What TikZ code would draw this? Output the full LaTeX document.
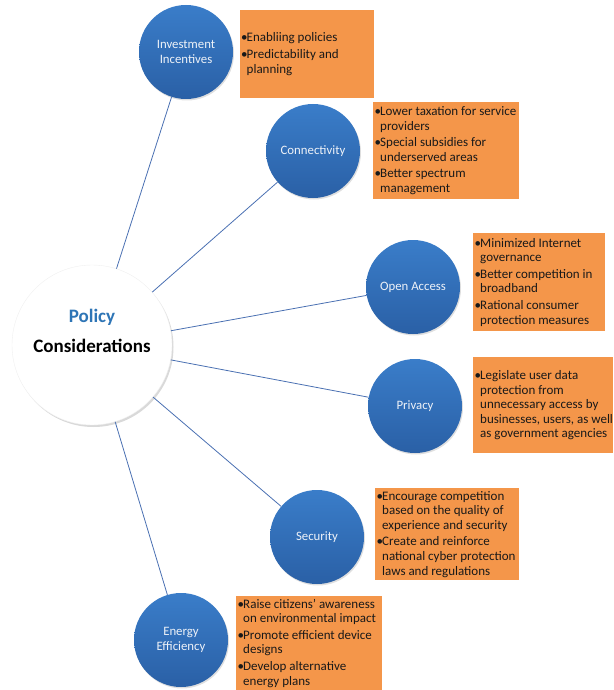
\documentclass[tikz,border=0pt]{standalone}
\usepackage{fontspec}
\setmainfont{Carlito}
\usetikzlibrary{shadows}
\definecolor{boxorange}{HTML}{F4964A}
\definecolor{topictop}{HTML}{3A7DC9}
\definecolor{topicbot}{HTML}{2A60A6}
\definecolor{topictext}{HTML}{EEF2F8}
\definecolor{linkblue}{HTML}{4A70B2}
\definecolor{policyblue}{HTML}{2E75B6}
\newcommand\bul[1]{\makebox[5.5pt][l]{\textbullet}#1}
\newcommand\cont[1]{\hspace*{5.5pt}#1}
\tikzset{
  topic/.style={circle, minimum size=94pt, inner sep=0pt, top color=topictop, bottom color=topicbot,
    text=topictext, align=center, font=\fontsize{12.8}{15}\selectfont,
    drop shadow={shadow xshift=1pt, shadow yshift=-1.5pt, opacity=0.25}},
  hub/.style={circle, minimum size=160pt, inner sep=0pt, fill=white, draw=black!6,
    drop shadow={shadow xshift=1.5pt, shadow yshift=-2pt, opacity=0.3}},
  infobox/.style={rectangle, fill=boxorange, inner sep=0pt, anchor=north west},
  boxtext/.style={align=left, inner sep=0pt, anchor=west, text=black!90, font=\fontsize{13}{14.6}\selectfont},
  link/.style={draw=linkblue, line width=0.8pt}
}
\begin{document}
\begin{tikzpicture}[x=1pt,y=-1pt]
\useasboundingbox (0,0) rectangle (613,690);
% hub
\node[hub] (hub) at (92,345) {};
\node[align=center, font=\bfseries\fontsize{19}{30}\selectfont] (title) at (92,331)
  {\textcolor{policyblue}{Policy}\\Considerations};
% topics
\node[topic] (inv) at (186,52) {Investment\\Incentives};
\node[topic] (con) at (313,151) {Connectivity};
\node[topic] (oa)  at (413,287) {Open Access};
\node[topic] (pri) at (415,406) {Privacy};
\node[topic] (sec) at (317,537) {Security};
\node[topic] (en)  at (181,640) {Energy\\Efficiency};
% links
\foreach \t in {inv,con,oa,pri,sec,en} \draw[link] (hub) -- (\t);
% boxes
\node[infobox, minimum width=134pt, minimum height=88pt] (b1) at (240,10) {};
\node[infobox, minimum width=146pt, minimum height=97pt] (b2) at (373,102) {};
\node[infobox, minimum width=132pt, minimum height=98pt] (b3) at (473,233) {};
\node[infobox, minimum width=140pt, minimum height=96pt] (b4) at (473,357) {};
\node[infobox, minimum width=144pt, minimum height=92pt] (b5) at (375,488) {};
\node[infobox, minimum width=146pt, minimum height=94pt] (b6) at (236,596) {};
% box texts
\node[boxtext] (t1) at ([xshift=1pt]b1.west)
  {\bul{Enabliing policies}\\[2pt]\bul{Predictability and}\\\cont{planning}};
\node[boxtext] (t2) at ([xshift=1.5pt]b2.west)
  {\bul{Lower taxation for service}\\\cont{providers}\\[2pt]\bul{Special subsidies for}\\\cont{underserved areas}\\[2pt]\bul{Better spectrum}\\\cont{management}};
\node[boxtext] (t3) at ([xshift=1.5pt]b3.west)
  {\bul{Minimized Internet}\\\cont{governance}\\[2pt]\bul{Better competition in}\\\cont{broadband}\\[2pt]\bul{Rational consumer}\\\cont{protection measures}};
\node[boxtext] (t4) at ([xshift=1.5pt]b4.west)
  {\bul{Legislate user data}\\\cont{protection from}\\\cont{unnecessary access by}\\\cont{businesses, users, as well}\\\cont{as government agencies}};
\node[boxtext] (t5) at ([xshift=1.5pt]b5.west)
  {\bul{Encourage competition}\\\cont{based on the quality of}\\\cont{experience and security}\\[2pt]\bul{Create and reinforce}\\\cont{national cyber protection}\\\cont{laws and regulations}};
\node[boxtext] (t6) at ([xshift=1.5pt]b6.west)
  {\bul{Raise citizens' awareness}\\\cont{on environmental impact}\\[2pt]\bul{Promote efficient device}\\\cont{designs}\\[2pt]\bul{Develop alternative}\\\cont{energy plans}};
\end{tikzpicture}
\end{document}
